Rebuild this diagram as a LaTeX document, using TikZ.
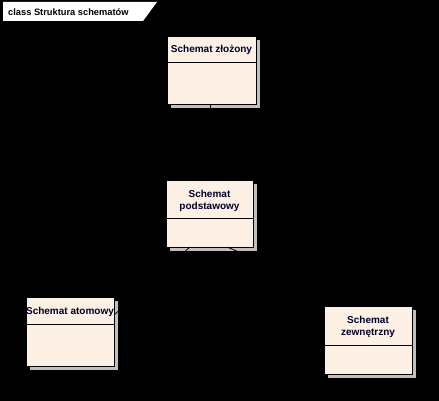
\documentclass[tikz,border=0pt]{standalone}
\usepackage{fontspec}
\setmainfont{Liberation Sans}
\usetikzlibrary{arrows.meta}
\definecolor{boxfill}{RGB}{252,241,228}
\definecolor{shadowgray}{RGB}{192,192,192}
\tikzset{
  x=1pt, y=-1pt,
  shadowbox/.style={fill=shadowgray, draw=none},
  classbox/.style={fill=boxfill, draw=black, line width=0.8pt},
  sepline/.style={draw=black, line width=0.8pt},
  titletext/.style={font=\bfseries\fontsize{10}{12.5}\selectfont, align=center, inner sep=0pt, text=black!85!blue},
  conn/.style={draw=black, line width=0.8pt},
}
\begin{document}
\begin{tikzpicture}
\useasboundingbox (0,0) rectangle (439,401);
\fill[black] (0,0) rectangle (439,401);
% frame and tab
\draw[black] (0.5,0.5) rectangle (438.5,400.5);
\fill[white] (3,2) -- (157,2) -- (143,21) -- (3,21) -- cycle;
\node[anchor=west, inner sep=0pt, font=\bfseries\fontsize{9.3}{11}\selectfont] (tab) at (8,12) {class Struktura schematów};

% Schemat zlozony
\fill[shadowbox] (171,40) rectangle (260,108);
\draw[classbox] (167,36) rectangle (256,104);
\coordinate (b1s) at (210,104);
\draw[sepline] (167,62) -- (256,62);
\node[titletext] (t1) at (211.5,50) {Schemat złożony};

% Schemat podstawowy
\fill[shadowbox] (170,184) rectangle (257,251);
\draw[classbox] (166,180) rectangle (253,247);
\draw[sepline] (166,218) -- (253,218);
\node[titletext] (t2) at (209.5,201) {Schemat\\podstawowy};
\coordinate (b2n) at (210,180);
\coordinate (b2sl) at (190,247);
\coordinate (b2sr) at (227,247);

% Schemat atomowy
\fill[shadowbox] (30,301) rectangle (118,370);
\draw[classbox] (26,297) rectangle (114,366);
\draw[sepline] (26,324) -- (114,324);
\node[titletext] (t3) at (70,312) {Schemat atomowy};
\coordinate (b3e) at (114,315);

% Schemat zewnetrzny
\fill[shadowbox] (328,310) rectangle (416,378);
\draw[classbox] (324,306) rectangle (412,374);
\draw[sepline] (324,345) -- (412,345);
\node[titletext] (t4) at (368,327) {Schemat\\zewnętrzny};
\coordinate (b4n) at (368,306);

% connectors (black on black, as in the reference)
\draw[conn] (b2n) -- (b1s);
\draw[conn] (b3e) -- (b2sl);
\draw[conn] (b4n) -- (b2sr);
\end{tikzpicture}
\end{document}
